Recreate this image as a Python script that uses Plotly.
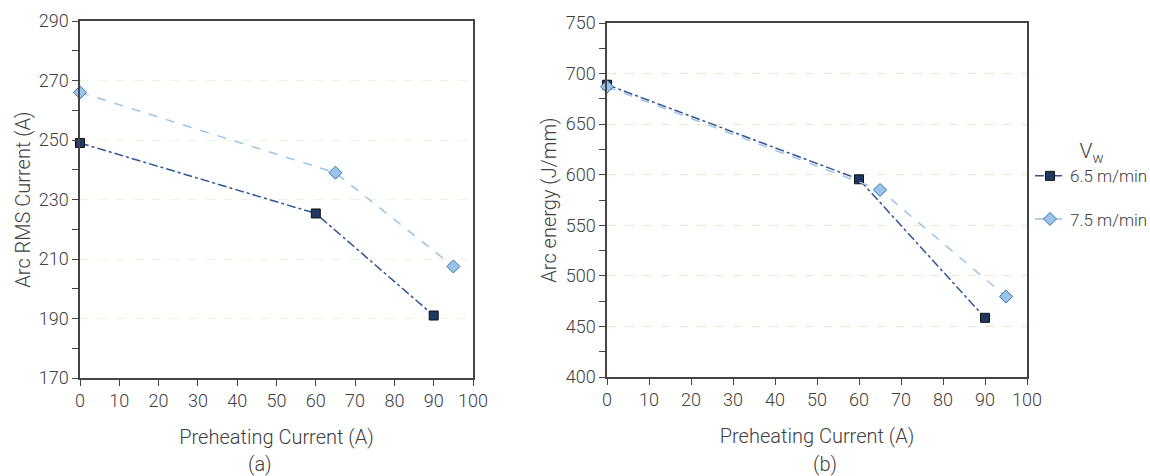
import plotly.graph_objects as go

# Preheating current (A) for each wire feed speed
preheat_65 = [0, 60, 90]
preheat_75 = [0, 65, 95]

# (a) Arc RMS current (A)
rms_65 = [249, 225.3, 191]
rms_75 = [266, 239, 207.5]

# (b) Arc energy (J/mm)
energy_65 = [689, 595.5, 458.5]
energy_75 = [687, 585, 479.5]

series_names = ["6.5 m/min", "7.5 m/min"]
x_ticks = list(range(0, 101, 10))
rms_ticks = list(range(170, 291, 20))
energy_ticks = list(range(400, 751, 50))

FONT = "Roboto, Liberation Sans, sans-serif"
TXT = "#404040"
DARK_LINE = "#2F5597"
DARK_FILL = "#1F3864"
LIGHT_LINE = "#9DC3E6"
LIGHT_FILL = "#9DC3E6"
LIGHT_EDGE = "#2E75B6"

fig = go.Figure()


def add_pair(xa, ya, y65, y75, show):
    fig.add_trace(go.Scatter(
        x=preheat_65, y=y65, xaxis=xa, yaxis=ya, name=series_names[0],
        mode="lines+markers", legendgroup="g65", showlegend=show,
        line=dict(color=DARK_LINE, width=1.5, dash="dashdot"),
        marker=dict(symbol="square", size=9, color=DARK_FILL,
                    line=dict(color="#111111", width=1)),
        cliponaxis=False,
    ))
    fig.add_trace(go.Scatter(
        x=preheat_75, y=y75, xaxis=xa, yaxis=ya, name=series_names[1],
        mode="lines+markers", legendgroup="g75", showlegend=show,
        line=dict(color=LIGHT_LINE, width=1.5, dash="dash"),
        marker=dict(symbol="diamond", size=10, color=LIGHT_FILL,
                    line=dict(color=LIGHT_EDGE, width=1)),
        cliponaxis=False,
    ))


add_pair("x", "y", rms_65, rms_75, True)
add_pair("x2", "y2", energy_65, energy_75, False)

H = 476
W = 1150

xcommon = dict(
    range=[0, 100], tickvals=x_ticks, showline=True, linecolor="#444444",
    linewidth=1.5, mirror=True, ticks="outside", ticklen=6, tickcolor="#444444",
    showgrid=False, zeroline=False, automargin=False,
    tickfont=dict(family=FONT, size=18, color=TXT, weight=300),
    title=dict(text="Preheating Current (A)", standoff=20,
               font=dict(family=FONT, size=20, color=TXT, weight=300)),
)
ycommon = dict(
    showline=True, linecolor="#444444", linewidth=1.5, mirror=True,
    ticks="outside", ticklen=6, tickcolor="#444444", zeroline=False,
    automargin=False, showgrid=True, griddash="dash", gridwidth=1,
    tickfont=dict(family=FONT, size=18, color=TXT, weight=300),
)

fig.update_layout(
    width=W, height=H, margin=dict(l=0, r=0, t=0, b=0, autoexpand=False),
    paper_bgcolor="white", plot_bgcolor="white",
    font=dict(family=FONT, color=TXT),
    xaxis=dict(domain=[80 / W, 473 / W], anchor="y", **xcommon),
    xaxis2=dict(domain=[607 / W, 1027 / W], anchor="y2", **xcommon),
    yaxis=dict(
        domain=[1 - 378 / H, 1 - 21 / H], anchor="x", range=[170, 290],
        tickvals=rms_ticks, gridcolor="#EEF2DF",
        minor=dict(tick0=170, dtick=10, ticks="outside", ticklen=6,
                   tickcolor="#444444", showgrid=False),
        title=dict(text="Arc RMS Current (A)", standoff=3,
                   font=dict(family=FONT, size=20, color=TXT, weight=300)),
        **ycommon,
    ),
    yaxis2=dict(
        domain=[1 - 377 / H, 1 - 23 / H], anchor="x2", range=[400, 750],
        tickvals=energy_ticks, gridcolor="#FCE0D0",
        minor=dict(tick0=400, dtick=25, ticks="outside", ticklen=6,
                   tickcolor="#444444", showgrid=False),
        title=dict(text="Arc energy (J/mm)", standoff=4,
                   font=dict(family=FONT, size=20, color=TXT, weight=300)),
        **ycommon,
    ),
    legend=dict(
        x=1030 / W, y=1 - 131 / H, xanchor="left", yanchor="top",
        title=dict(text="V<sub>w</sub>", side="top center",
                   font=dict(family=FONT, size=21, color=TXT, weight=300)),
        font=dict(family=FONT, size=17, color=TXT, weight=300),
        tracegroupgap=18, itemwidth=30, bgcolor="rgba(0,0,0,0)",
    ),
    annotations=[
        dict(text="(a)", x=260 / W, y=1 - 464 / H, xref="paper", yref="paper",
             xanchor="center", yanchor="middle", showarrow=False,
             font=dict(family=FONT, size=20, color=TXT, weight=300)),
        dict(text="(b)", x=825 / W, y=1 - 464 / H, xref="paper", yref="paper",
             xanchor="center", yanchor="middle", showarrow=False,
             font=dict(family=FONT, size=20, color=TXT, weight=300)),
    ],
)

fig.write_html("out.html")
